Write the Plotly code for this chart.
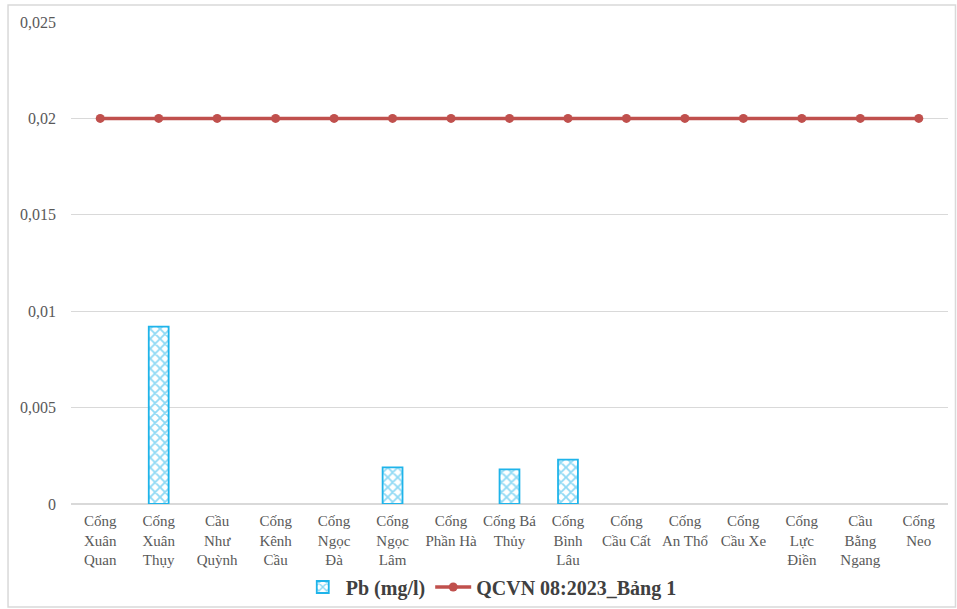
import plotly.graph_objects as go

# Monitoring points along the river
categories = [
    "Cống Xuân Quan", "Cống Xuân Thụy", "Cầu Như Quỳnh", "Cống Kênh Cầu",
    "Cống Ngọc Đà", "Cống Ngọc Lâm", "Cống Phần Hà", "Cống Bá Thủy",
    "Cống Bình Lâu", "Cống Cầu Cất", "Cống An Thổ", "Cống Cầu Xe",
    "Cống Lực Điền", "Cầu Bằng Ngang", "Cống Neo",
]
tick_labels = [
    "Cống<br>Xuân<br>Quan", "Cống<br>Xuân<br>Thụy", "Cầu<br>Như<br>Quỳnh",
    "Cống<br>Kênh<br>Cầu", "Cống<br>Ngọc<br>Đà", "Cống<br>Ngọc<br>Lâm",
    "Cống<br>Phần Hà", "Cống Bá<br>Thủy", "Cống<br>Bình<br>Lâu",
    "Cống<br>Cầu Cất", "Cống<br>An Thổ", "Cống<br>Cầu Xe",
    "Cống<br>Lực<br>Điền", "Cầu<br>Bằng<br>Ngang", "Cống<br>Neo",
]
# Pb concentration (mg/l); zero where not detected
pb_values = [0, 0.0092, 0, 0, 0, 0.0019, 0, 0.0018, 0.0023, 0, 0, 0, 0, 0, 0]
# QCVN 08:2023 Table 1 limit
qcvn_values = [0.02] * 15

FONT = "Liberation Serif, Times New Roman, serif"
BLUE = "#1FB4EA"
RED = "#C0504D"
GRID = "#D9D9D9"
TEXT = "#595959"

W, H = 957, 609
L, R, T, B = 71, 8.5, 22, 105
pw, ph = W - L - R, H - T - B


def px_x(p):
    return (p - L) / pw


def px_y(p):
    return (H - B - p) / ph


fig = go.Figure()
fig.add_trace(go.Bar(
    x=categories, y=[v if v else None for v in pb_values],
    name="Pb (mg/l)", width=0.34,
    marker=dict(
        color="white",
        line=dict(color=BLUE, width=1.8),
        pattern=dict(shape="x", fgcolor=BLUE, bgcolor="white", size=7, solidity=0.45),
    ),
))
fig.add_trace(go.Scatter(
    x=categories, y=qcvn_values, name="QCVN 08:2023_Bảng 1",
    mode="lines+markers",
    line=dict(color=RED, width=3.5),
    marker=dict(color=RED, size=9),
))

fig.update_layout(
    width=W, height=H,
    margin=dict(l=L, r=R, t=T, b=B, autoexpand=False),
    paper_bgcolor="white", plot_bgcolor="white",
    separators=",.",
    font=dict(family=FONT, size=15, color=TEXT),
    showlegend=True,
    legend=dict(
        orientation="h", x=px_x(491), xanchor="center", y=px_y(587), yanchor="middle",
        bgcolor="rgba(0,0,0,0)",
        font=dict(family=FONT, size=20, color="#404040", weight="bold"),
        itemwidth=36, tracegroupgap=0,
    ),
    xaxis=dict(
        range=[-0.5, 14.5], automargin=False,
        tickmode="array", tickvals=categories, ticktext=tick_labels,
        tickangle=0, ticklabelstandoff=6,
        tickfont=dict(family=FONT, size=15, color=TEXT),
        showgrid=False, showline=False, ticks="",
    ),
    yaxis=dict(
        range=[0, 0.025], dtick=0.005, tick0=0, automargin=False,
        showgrid=True, gridcolor=GRID, gridwidth=1,
        zeroline=True, zerolinecolor=GRID, zerolinewidth=1.5,
        showline=False, ticks="",
        ticklabelstandoff=14,
        tickfont=dict(family=FONT, size=16, color=TEXT),
    ),
    shapes=[dict(
        type="rect", xref="paper", yref="paper",
        x0=px_x(8), x1=px_x(956), y0=px_y(607), y1=px_y(5),
        line=dict(color="#D9D9D9", width=1.5), fillcolor="rgba(0,0,0,0)", layer="below",
    )],
)

fig.write_html("out.html")
